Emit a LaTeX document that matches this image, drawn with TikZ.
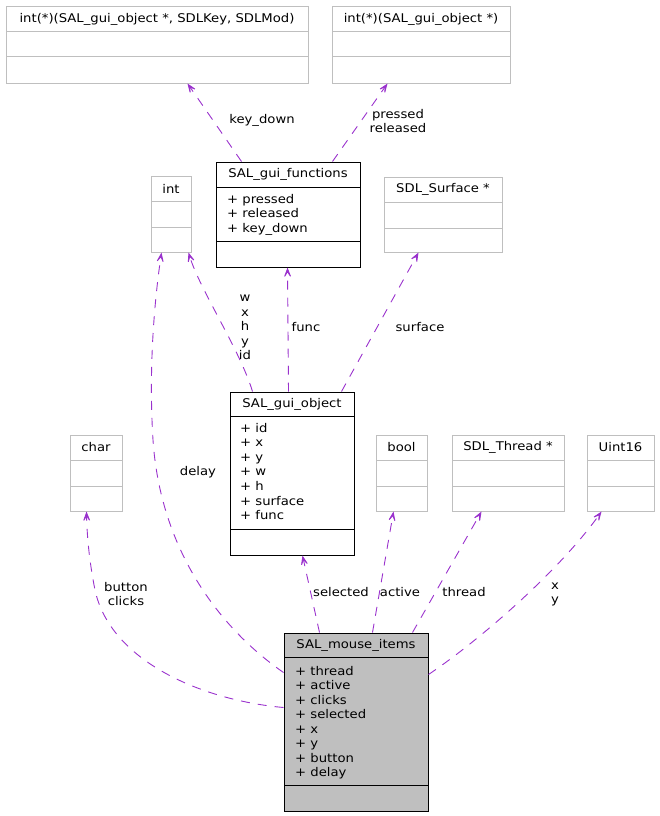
\documentclass[tikz,border=0pt]{standalone}
\usepackage{fontspec}
\setmainfont{DejaVu Sans}[FakeStretch=1.1]
\usetikzlibrary{arrows.meta,fit,calc}
\definecolor{edgec}{RGB}{154,50,205}
\definecolor{boxgray}{RGB}{191,191,191}
\tikzset{
  gbox/.style={draw=boxgray, line width=1pt, inner sep=0pt},
  bbox/.style={draw=black, line width=1pt, inner sep=0pt},
  fbox/.style={draw=black, fill=boxgray, line width=1pt, inner sep=0pt},
  gdiv/.style={draw=boxgray, line width=1pt},
  bdiv/.style={draw=black, line width=1pt},
  ttl/.style={inner sep=0pt, anchor=center},
  mem/.style={inner sep=0pt, anchor=base west},
  lbl/.style={inner sep=0pt, align=center, anchor=center},
  edge/.style={draw=edgec, line width=0.9pt, dash pattern=on 9pt off 8pt,
    -{Stealth[length=13pt,width=10pt,inset=8pt]}},
}
\newcommand\classbox[8]{%
  \node[#2, fit={(#3,#4) (#5,#6)}] (#1) {};
  \path[#8] (#3,#7) -- (#5,#7);
}
\begin{document}
\begin{tikzpicture}[x=1pt,y=-1pt, font=\fontsize{12}{14.5}\selectfont]
\useasboundingbox (0,0) rectangle (659,816);

% int(*)(SAL_gui_object *, SDLKey, SDLMod)
\classbox{kd}{gbox}{6}{7}{308}{83}{32}{gdiv}
\path[gdiv] (6,57) -- (308,57);
\node[ttl] (kdt) at (157,19.5) {int(*)(SAL\_gui\_object *, SDLKey, SDLMod)};

% int(*)(SAL_gui_object *)
\classbox{pr}{gbox}{332}{7}{510}{83}{32}{gdiv}
\path[gdiv] (332,57) -- (510,57);
\node[ttl] (prt) at (421,19.5) {int(*)(SAL\_gui\_object *)};

% int
\classbox{intb}{gbox}{151}{176}{191}{252}{201}{gdiv}
\path[gdiv] (151,227) -- (191,227);
\node[ttl] (intt) at (171,188.5) {int};

% SAL_gui_functions
\classbox{fn}{bbox}{216}{162}{360}{267}{187}{bdiv}
\path[bdiv] (216,241) -- (360,241);
\node[ttl] (fnt) at (288,174.5) {SAL\_gui\_functions};
\foreach \t [count=\i] in {+ pressed, + released, + key\_down}
  \node[mem] (fnm\i) at (227,{203+(\i-1)*14.5}) {\t};

% SDL_Surface *
\classbox{surf}{gbox}{384}{177}{502}{252}{202}{gdiv}
\path[gdiv] (384,228) -- (502,228);
\node[ttl] (surft) at (443,189.5) {SDL\_Surface *};

% SAL_gui_object
\classbox{obj}{bbox}{230}{392}{354}{555}{416}{bdiv}
\path[bdiv] (230,529) -- (354,529);
\node[ttl] (objt) at (292,404) {SAL\_gui\_object};
\foreach \t [count=\i] in {+ id, + x, + y, + w, + h, + surface, + func}
  \node[mem] (objm\i) at (240,{432+(\i-1)*14.6}) {\t};

% char
\classbox{chr}{gbox}{70}{435}{122}{511}{460}{gdiv}
\path[gdiv] (70,486) -- (122,486);
\node[ttl] (chrt) at (96,447.5) {char};

% bool
\classbox{bl}{gbox}{376}{435}{427}{511}{460}{gdiv}
\path[gdiv] (376,486) -- (427,486);
\node[ttl] (blt) at (401.5,447.5) {bool};

% SDL_Thread *
\classbox{thr}{gbox}{452}{435}{564}{511}{460}{gdiv}
\path[gdiv] (452,486) -- (564,486);
\node[ttl] (thrt) at (508,447.5) {SDL\_Thread *};

% Uint16
\classbox{u16}{gbox}{587}{435}{654}{511}{460}{gdiv}
\path[gdiv] (587,486) -- (654,486);
\node[ttl] (u16t) at (620.5,447.5) {Uint16};

% SAL_mouse_items
\classbox{mi}{fbox}{284}{633}{428}{811}{657}{bdiv}
\path[bdiv] (284,785) -- (428,785);
\node[ttl] (mit) at (356,645) {SAL\_mouse\_items};
\foreach \t [count=\i] in {+ thread, + active, + clicks, + selected, + x, + y, + button, + delay}
  \node[mem] (mim\i) at (295,{675+(\i-1)*14.5}) {\t};

% edges
\draw[edge] ($(fn.north west)+(26,0)$) -- ($(kd.south west)+(182,0)$);
\node[lbl] (l1) at (262,120) {key\_down};

\draw[edge] ($(fn.north west)+(117,0)$) -- ($(pr.south west)+(56,0)$);
\node[lbl] (l2) at (398,121) {pressed\\released};

\draw[edge] ($(obj.north west)+(23,0)$) .. controls (240,350) and (200,290) .. ($(intb.south west)+(38,0)$);
\node[lbl] (l3) at (245,327.5) {w\\x\\h\\y\\id};

\draw[edge] ($(obj.north west)+(59,0)$) -- ($(fn.south west)+(72,0)$);
\node[lbl] (l4) at (306,327) {func};

\draw[edge] ($(obj.north west)+(112,0)$) -- ($(surf.south west)+(35,0)$);
\node[lbl] (l5) at (420,327) {surface};

\draw[edge] ($(mi.north west)+(0,40)$) .. controls (215,625) and (160,545) .. (153,440)
  .. controls (148,360) and (156,290) .. ($(intb.south west)+(11,0)$);
\node[lbl] (l6) at (198,472) {delay};

\draw[edge] ($(mi.north west)+(0,75)$) .. controls (200,700) and (110,660) .. (95,590)
  .. controls (89,560) and (87,535) .. ($(chr.south west)+(17,0)$);
\node[lbl] (l7) at (126,594) {button\\clicks};

\draw[edge] ($(mi.north west)+(36,0)$) -- ($(obj.south west)+(73,0)$);
\node[lbl] (l8) at (341,592) {selected};

\draw[edge] ($(mi.north west)+(89,0)$) -- ($(bl.south west)+(18,0)$);
\node[lbl] (l9) at (400,592) {active};

\draw[edge] ($(mi.north west)+(129,0)$) -- ($(thr.south west)+(30,0)$);
\node[lbl] (l10) at (464,592) {thread};

\draw[edge] ($(mi.north east)+(0,42)$) .. controls (480,640) and (560,570) .. ($(u16.south west)+(15,0)$);
\node[lbl] (l11) at (555,594.5) {x\\y};
\end{tikzpicture}
\end{document}
